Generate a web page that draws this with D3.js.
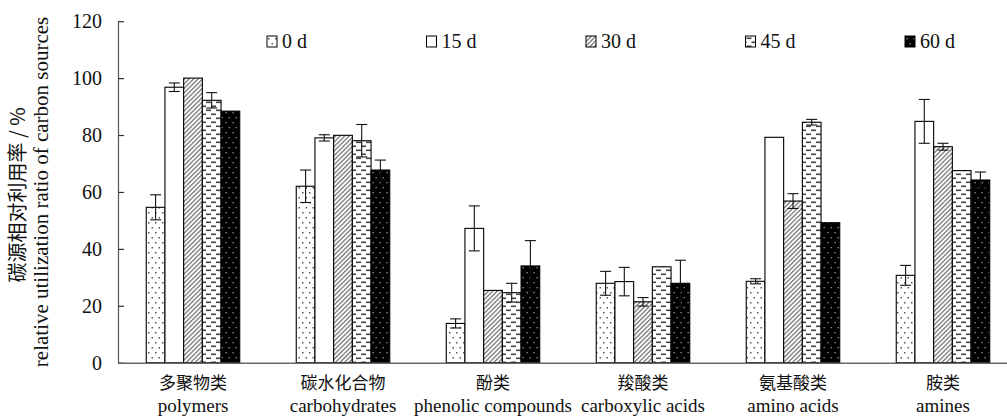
<!DOCTYPE html>
<html>
<head>
<meta charset="utf-8">
<script src="https://cdn.jsdelivr.net/npm/d3@7"></script>
<style>
  body { margin: 0; background: #fff; }
  svg { display: block; }
  svg text.lat, svg .lat text { font-family: "Liberation Serif", "DejaVu Serif", "Times New Roman", serif; font-weight: normal; }
  svg text.cjk { font-family: "Noto Sans CJK SC", "Noto Sans CJK JP", sans-serif; font-weight: normal; }
</style>
</head>
<body>
<div id="vis"></div>
<script>
// categories (Chinese / English)
var catsZh = ['多聚物类', '碳水化合物', '酚类', '羧酸类', '氨基酸类', '胺类'];
var catsEn = ['polymers', 'carbohydrates', 'phenolic compounds', 'carboxylic acids', 'amino acids', 'amines'];

// series = incubation days
var series = ['0 d', '15 d', '30 d', '45 d', '60 d'];

// values per category, one number per series
var valPolymers = [54.6, 96.8, 100.0, 92.2, 88.4];
var valCarbo = [62.0, 79.0, 79.9, 78.0, 67.7];
var valPhenolic = [13.8, 47.2, 25.4, 24.6, 34.0];
var valCarboxylic = [27.9, 28.5, 21.4, 33.7, 27.9];
var valAmino = [28.6, 79.2, 56.8, 84.5, 49.2];
var valAmines = [30.7, 84.8, 75.9, 67.5, 64.2];

// error (+/-), 0 = no error bar
var errPolymers = [4.4, 1.5, 0, 2.7, 0];
var errCarbo = [5.7, 1.1, 0, 5.7, 3.5];
var errPhenolic = [1.6, 7.9, 0, 3.3, 8.9];
var errCarboxylic = [4.2, 5.0, 1.5, 0, 8.1];
var errAmino = [0.9, 0, 2.6, 1.0, 0];
var errAmines = [3.5, 7.7, 1.2, 0, 2.8];

var yTicks = [0, 20, 40, 60, 80, 100, 120];

var values = [valPolymers, valCarbo, valPhenolic, valCarboxylic, valAmino, valAmines];
var errors = [errPolymers, errCarbo, errPhenolic, errCarboxylic, errAmino, errAmines];

var width = 1007;
var height = 416;
var serif = '"Liberation Serif", "DejaVu Serif", "Times New Roman", serif';
var cjk = '"Noto Sans CJK SC", "Noto Sans CJK JP", sans-serif';

var svg = d3.select('#vis').append('svg')
  .attr('width', width)
  .attr('height', height);

// fill patterns for the series
var defs = svg.append('defs');

var p0 = defs.append('pattern').attr('id', 'p0').attr('patternUnits', 'userSpaceOnUse')
  .attr('width', 7).attr('height', 10);
p0.append('rect').attr('width', 7).attr('height', 10).attr('fill', '#fff');
p0.append('rect').attr('x', 1).attr('y', 2).attr('width', 1.5).attr('height', 1.5).attr('fill', '#555');
p0.append('rect').attr('x', 4.5).attr('y', 7).attr('width', 1.5).attr('height', 1.5).attr('fill', '#555');

var p1 = defs.append('pattern').attr('id', 'p1').attr('patternUnits', 'userSpaceOnUse')
  .attr('width', 4).attr('height', 4);
p1.append('rect').attr('width', 4).attr('height', 4).attr('fill', '#fff');

var p2 = defs.append('pattern').attr('id', 'p2').attr('patternUnits', 'userSpaceOnUse')
  .attr('width', 3.2).attr('height', 3.2).attr('patternTransform', 'rotate(45)');
p2.append('rect').attr('width', 3.2).attr('height', 3.2).attr('fill', '#fff');
p2.append('rect').attr('x', 0).attr('y', 0).attr('width', 1.3).attr('height', 3.2).attr('fill', '#777');

var p3 = defs.append('pattern').attr('id', 'p3').attr('patternUnits', 'userSpaceOnUse')
  .attr('width', 10).attr('height', 8);
p3.append('rect').attr('width', 10).attr('height', 8).attr('fill', '#fff');
p3.append('rect').attr('x', 1).attr('y', 1.5).attr('width', 5).attr('height', 1.6).attr('fill', '#444');
p3.append('rect').attr('x', 6).attr('y', 5.5).attr('width', 5).attr('height', 1.6).attr('fill', '#444');
p3.append('rect').attr('x', -4).attr('y', 5.5).attr('width', 5).attr('height', 1.6).attr('fill', '#444');

var p4 = defs.append('pattern').attr('id', 'p4').attr('patternUnits', 'userSpaceOnUse')
  .attr('width', 7).attr('height', 10);
p4.append('rect').attr('width', 7).attr('height', 10).attr('fill', '#000');
p4.append('rect').attr('x', 1.5).attr('y', 2).attr('width', 1.3).attr('height', 1.3).attr('fill', '#999');
p4.append('rect').attr('x', 4.5).attr('y', 7).attr('width', 1.3).attr('height', 1.3).attr('fill', '#999');

var fills = ['url(#p0)', 'url(#p1)', 'url(#p2)', 'url(#p3)', 'url(#p4)'];

// scales
var x = d3.scaleBand()
  .domain(catsEn)
  .range([118, 1018])
  .padding(0);

var xs = d3.scaleBand()
  .domain(series)
  .range([-46.75, 46.75]);

var y = d3.scaleLinear()
  .domain([0, 120])
  .range([362.7, 21.2]);

// y axis
var yAxis = svg.append('g')
  .attr('transform', 'translate(118,0)')
  .call(d3.axisLeft(y).tickValues(yTicks).tickSizeInner(-6).tickSizeOuter(0).tickPadding(16));
yAxis.attr('font-family', serif).attr('font-size', 20);
yAxis.select('.domain').attr('stroke', '#555').attr('stroke-width', 1.2);
yAxis.selectAll('.tick line').attr('stroke', '#333').attr('stroke-width', 1.2);
yAxis.selectAll('.tick text')
  .attr('class', 'lat')
  .attr('fill', '#111');

// bars
var rows = [];
catsEn.forEach(function (c, i) {
  series.forEach(function (s, j) {
    rows.push({ cat: c, s: s, j: j, v: values[i][j], e: errors[i][j] });
  });
});

var bars = svg.append('g').attr('class', 'bars');
bars.selectAll('rect')
  .data(rows)
  .enter().append('rect')
  .attr('x', function (d) { return x(d.cat) + x.bandwidth() / 2 + xs(d.s); })
  .attr('y', function (d) { return y(d.v); })
  .attr('width', xs.bandwidth())
  .attr('height', function (d) { return y(0) - y(d.v); })
  .attr('fill', function (d) { return fills[d.j]; })
  .attr('stroke', '#000')
  .attr('stroke-width', 1.1);

// error bars
var eb = svg.append('g').attr('class', 'errors')
  .selectAll('g')
  .data(rows.filter(function (d) { return d.e > 0; }))
  .enter().append('g')
  .attr('stroke', '#111')
  .attr('stroke-width', 1.1);

function cx(d) { return x(d.cat) + x.bandwidth() / 2 + xs(d.s) + xs.bandwidth() / 2; }

eb.append('line')
  .attr('x1', cx).attr('x2', cx)
  .attr('y1', function (d) { return y(d.v + d.e); })
  .attr('y2', function (d) { return y(d.v - d.e); });
eb.append('line')
  .attr('x1', function (d) { return cx(d) - 5.5; }).attr('x2', function (d) { return cx(d) + 5.5; })
  .attr('y1', function (d) { return y(d.v + d.e); })
  .attr('y2', function (d) { return y(d.v + d.e); });
eb.append('line')
  .attr('x1', function (d) { return cx(d) - 5.5; }).attr('x2', function (d) { return cx(d) + 5.5; })
  .attr('y1', function (d) { return y(d.v - d.e); })
  .attr('y2', function (d) { return y(d.v - d.e); });

// x axis (baseline only)
var xAxis = svg.append('g')
  .attr('transform', 'translate(0,' + y(0) + ')')
  .call(d3.axisBottom(x).tickSize(0).tickFormat(''));
xAxis.select('.domain').attr('stroke', '#666').attr('stroke-width', 1.6);

// category labels
var labels = svg.append('g');
labels.selectAll('text.zh')
  .data(catsEn)
  .enter().append('text')
  .attr('class', 'cjk')
  .attr('font-family', cjk)
  .attr('x', function (d) { return x(d) + x.bandwidth() / 2; })
  .attr('y', 389)
  .attr('text-anchor', 'middle')
  .attr('font-size', 17)
  .attr('fill', '#111')
  .text(function (d, i) { return catsZh[i]; });
labels.selectAll('text.en')
  .data(catsEn)
  .enter().append('text')
  .attr('class', 'lat')
  .attr('font-family', serif)
  .attr('x', function (d) { return x(d) + x.bandwidth() / 2; })
  .attr('y', 412)
  .attr('text-anchor', 'middle')
  .attr('font-size', 19)
  .attr('fill', '#111')
  .text(function (d) { return d; });

// y axis titles
svg.append('text')
  .attr('class', 'cjk')
  .attr('font-family', cjk)
  .attr('transform', 'translate(25,' + ((y(0) + y(120)) / 2 + 3) + ') rotate(-90)')
  .attr('text-anchor', 'middle')
  .attr('font-size', 20)
  .attr('fill', '#111')
  .text('碳源相对利用率 / %');
svg.append('text')
  .attr('class', 'lat')
  .attr('font-family', serif)
  .attr('transform', 'translate(48,' + ((y(0) + y(120)) / 2) + ') rotate(-90)')
  .attr('text-anchor', 'middle')
  .attr('font-size', 21)
  .attr('fill', '#111')
  .text('relative utilization ratio of carbon sources');

// legend
var legend = svg.append('g').selectAll('g')
  .data(series)
  .enter().append('g')
  .attr('transform', function (d, i) { return 'translate(' + (267 + i * 159.5) + ',36)'; });
legend.append('rect')
  .attr('width', 10).attr('height', 11)
  .attr('fill', function (d, i) { return fills[i]; })
  .attr('stroke', '#000').attr('stroke-width', 1);
legend.append('text')
  .attr('class', 'lat')
  .attr('font-family', serif)
  .attr('x', 15).attr('y', 12)
  .attr('font-size', 20)
  .attr('fill', '#111')
  .text(function (d) { return d; });
</script>
</body>
</html>
